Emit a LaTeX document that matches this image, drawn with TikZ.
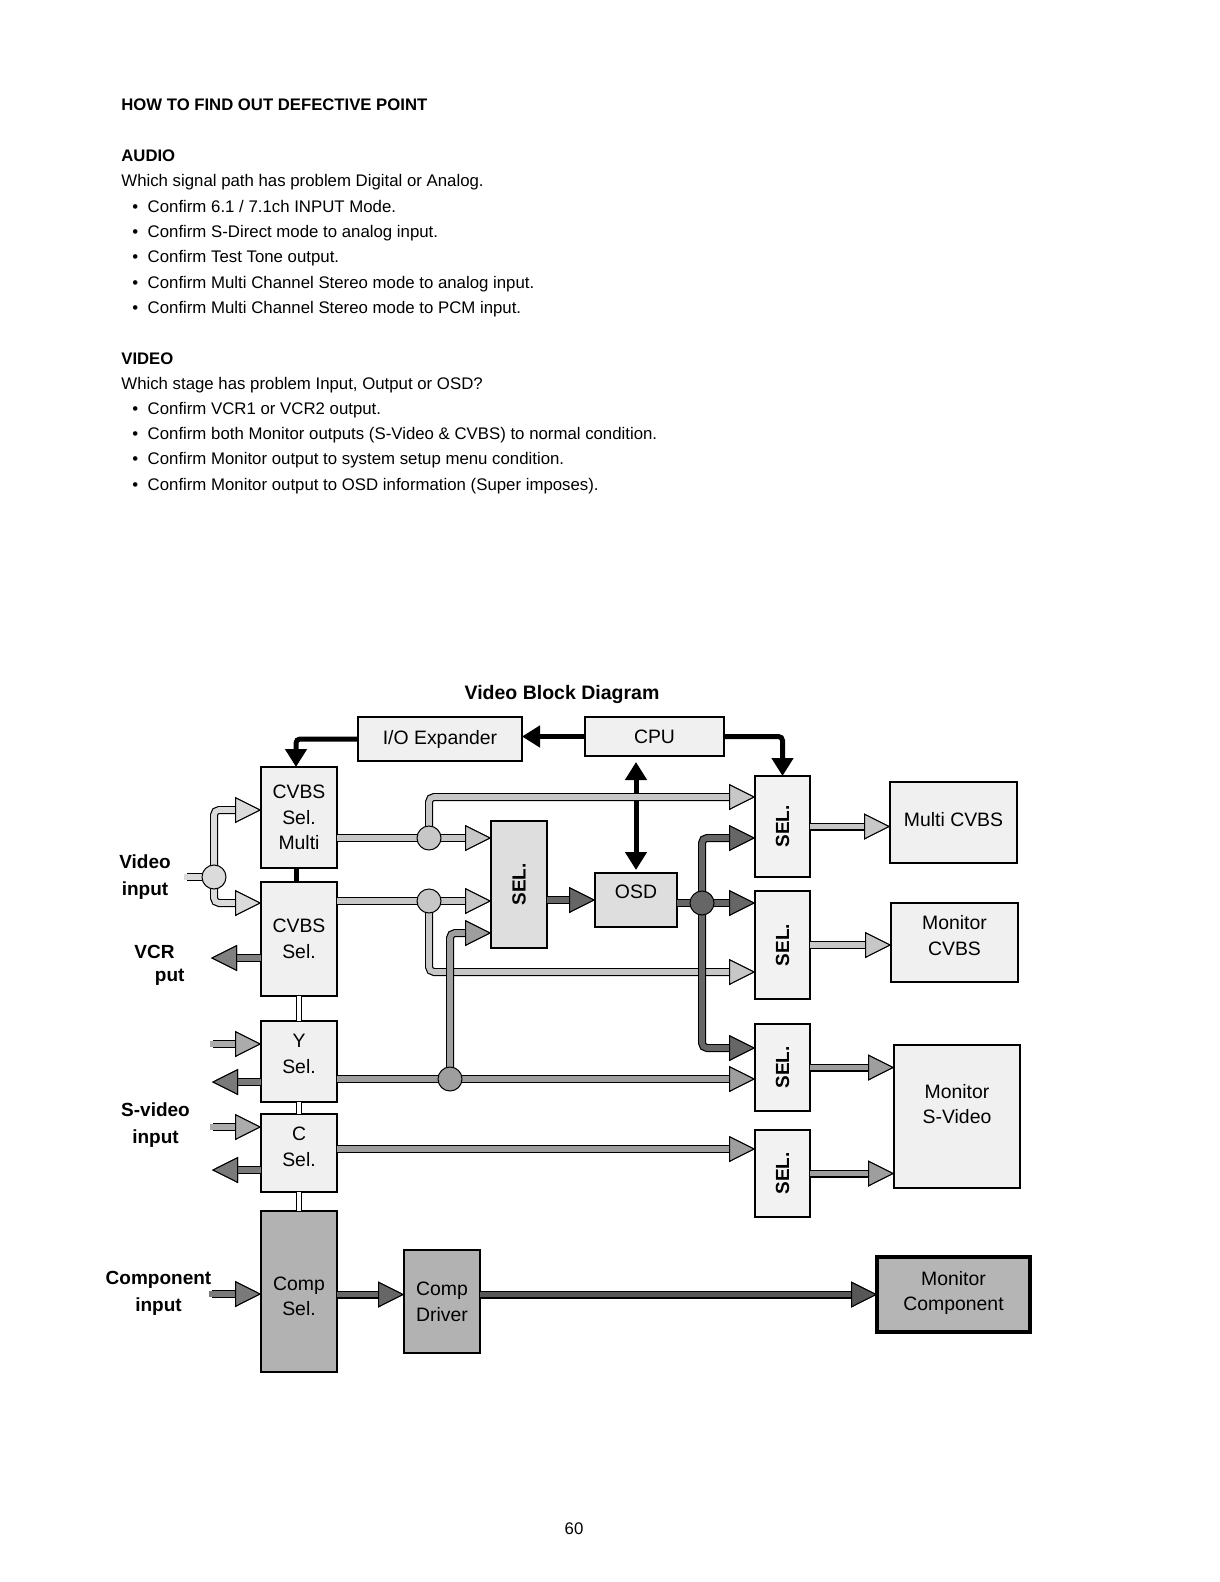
\documentclass[tikz,border=0pt]{standalone}
\usepackage{fontspec}
\setmainfont{Liberation Sans}
\usepackage{graphicx}
\usetikzlibrary{arrows.meta,positioning}

\newcommand{\notesize}{\fontsize{8.4}{12.65}\selectfont}
\newcommand{\blocksize}{\fontsize{9.7}{12.85}\selectfont}
\newcommand{\sidesize}{\fontsize{9.5}{13.2}\selectfont\bfseries}
\newcommand{\seltext}{\rotatebox{90}{SEL.}}
\newcommand{\textlift}[1]{\rule[-#1]{0pt}{0pt}}
\newcommand{\textdrop}[1]{\rule{0pt}{#1}}

\begin{document}
\begin{tikzpicture}[
  x=0.5pt, y=-0.5pt,
  >={Triangle[length=9pt, width=10.5pt]},
  note/.style={anchor=base west, inner sep=0pt, font=\notesize},
  head/.style={anchor=base west, inner sep=0pt, font=\fontsize{8.35}{12.65}\selectfont\bfseries},
  block/.style={draw, line width=0.75pt, fill=black!6, inner sep=0pt, outer sep=0pt, align=center, font=\blocksize},
  dark/.style={block, fill=black!30},
  selbox/.style={block, fill=black!5, minimum width=27.5pt, font=\fontsize{9.5}{11}\selectfont\bfseries},
  monitor/.style={block, line width=1.3pt},
  side/.style={align=center, inner sep=0pt, font=\sidesize},
  ctrl/.style={line width=2.5pt, rounded corners=2pt},
  pipe/.style={draw=#1, line width=2.8pt, rounded corners=2.5pt,
    preaction={draw=black, line width=4pt},
    -{Triangle[length=13pt, width=13pt, line width=0.5pt, color=black, fill=#1]}},
  stub/.style={draw=#1, line width=2.8pt, preaction={draw=black, line width=4pt}},
  junction/.style={circle, draw, line width=0.5pt, fill=#1, minimum size=12pt, inner sep=0pt},
  link/.style={draw=black, line width=0.5pt, double=white, double distance=2pt}
]
\path[use as bounding box, fill=white] (0,0) rectangle (1219,1582);

% notes above the diagram
\node[head] (howto) at (121,111) {HOW TO FIND OUT DEFECTIVE POINT};
\node[head] (audio) at (121,162) {AUDIO};
\node[note] (audio-ask) at (121,187) {Which signal path has problem Digital or Analog.};
\foreach \txt [count=\i] in {{Confirm 6.1 / 7.1ch INPUT Mode.},
    {Confirm S-Direct mode to analog input.},
    {Confirm Test Tone output.},
    {Confirm Multi Channel Stereo mode to analog input.},
    {Confirm Multi Channel Stereo mode to PCM input.}}
  \node[note] (audio-\i) at (147.3,187+25.3*\i) {\llap{\textbullet\hspace{4.7pt}}\txt};
\node[head] (video) at (121,364.3) {VIDEO};
\node[note] (video-ask) at (121,389.3) {Which stage has problem Input, Output or OSD?};
\foreach \txt [count=\i] in {{Confirm VCR1 or VCR2 output.},
    {Confirm both Monitor outputs (S-Video \& CVBS) to normal condition.},
    {Confirm Monitor output to system setup menu condition.},
    {Confirm Monitor output to OSD information (Super imposes).}}
  \node[note] (video-\i) at (147.3,389.3+25.2*\i) {\llap{\textbullet\hspace{4.7pt}}\txt};

% diagram
\node[anchor=base, inner sep=0pt, font=\fontsize{9.75}{11}\selectfont\bfseries] (title) at (562,699) {Video Block Diagram};

\node[block, line width=1pt, minimum width=82pt, minimum height=22pt] (io) at (440,739) {I/O Expander};
\node[block, line width=1pt, minimum width=69.5pt, minimum height=19.5pt] (cpu) at (654.5,736.5) {CPU};

\node[block, minimum width=38pt, minimum height=50.5pt] (cvbsm) at (299,817.5) {CVBS\\Sel.\\Multi};
\node[block, minimum width=38pt, minimum height=57pt, below=7pt of cvbsm] (cvbs) {CVBS\\Sel.};
\node[block, minimum width=38pt, minimum height=40.5pt, below=12.5pt of cvbs] (ysel) {Y\\Sel.\textlift{7.5pt}};
\node[block, minimum width=38pt, minimum height=39pt, below=6pt of ysel] (csel) {C\\Sel.\textlift{6pt}};
\node[dark, minimum width=38pt, minimum height=80.5pt, below=9.5pt of csel] (compsel) {\textdrop{11.6pt}Comp\\Sel.};
\node[dark, minimum width=38pt, minimum height=51.5pt] (compdrv) at (442,1301.5) {Comp\\Driver};

\node[block, fill=black!13, minimum width=28pt, minimum height=63.5pt, font=\fontsize{9.5}{11}\selectfont\bfseries] (selm) at (519,884.5) {\seltext};
\node[block, fill=black!13, minimum width=41pt, minimum height=27pt] (osd) at (636,900) {OSD\textlift{8pt}};

\node[selbox, minimum height=50.5pt] (sel1) at (782.5,826.5) {\seltext};
\node[selbox, minimum height=54pt, below=7pt of sel1] (sel2) {\seltext};
\node[selbox, minimum height=43.5pt, below=12.5pt of sel2] (sel3) {\seltext};
\node[selbox, minimum height=43.5pt, below=9.5pt of sel3] (sel4) {\seltext};

\node[monitor, minimum width=63.5pt, minimum height=40.5pt] (multi) at (953.5,822.5) {Multi CVBS\textlift{3.2pt}};
\node[monitor, minimum width=63.5pt, minimum height=39.5pt] (moncvbs) at (954.5,942.5) {Monitor\\CVBS\textlift{6.7pt}};
\node[monitor, minimum width=63pt, minimum height=71.5pt] (monsv) at (957,1116.5) {Monitor\\S-Video\textlift{12.5pt}};
\node[monitor, line width=1.7pt, fill=black!29, minimum width=76.5pt, minimum height=37.5pt] (moncomp) at (953.5,1294.5) {Monitor\\Component\textlift{3.5pt}};

% side labels
\node[side] (video-in) at (145,877) {Video\\input};
\node[side, anchor=base west] (vcr-a) at (134,958) {VCR};
\node[side, anchor=base west] (vcr-b) at (154.5,981.5) {put};
\node[side] (svideo-in) at (155.5,1125) {S-video\\input};
\node[side] (component-in) at (158.5,1293.5) {Component\\input};

% links between the selectors
\draw[line width=2.5pt] ([xshift=-1.5pt]cvbsm.south) -- ([xshift=-1.5pt]cvbs.north);
\draw[link] (cvbs.south) -- (ysel.north);
\draw[link] (ysel.south) -- (csel.north);
\draw[link] (csel.south) -- (compsel.north);

% control lines
\draw[ctrl, ->] (cpu.west) -- (cpu.west -| io.east);
\draw[ctrl, ->] (io.west) -| ([xshift=-1.5pt]cvbsm.north);
\draw[ctrl, ->] (cpu.east) -| (sel1.north);
\draw[ctrl, <->, shorten <=3pt, shorten >=1.5pt] (cpu.south -| osd.north) -- (osd.north);

% junction points
\coordinate (vin) at (187,877);
\coordinate (jv) at (214,877);
\coordinate (vin-up) at (214,810);
\coordinate (vin-dn) at (214,903);
\coordinate (j1) at (429,838);
\coordinate (j2) at (429,901);
\coordinate (cv-up) at (429,797);
\coordinate (cv-dn) at (429,972);
\coordinate (j3) at (450,1079);
\coordinate (y-up) at (450,933);
\coordinate (j4) at (702,903);
\coordinate (osd-up) at (702,838);
\coordinate (osd-dn) at (702,1048);
\coordinate (vcr-out) at (211,958);
\coordinate (y-in) at (213,1044);
\coordinate (y-out) at (212,1082);
\coordinate (c-in) at (213,1127);
\coordinate (c-out) at (212,1170);
\coordinate (comp-in) at (212,1294);

% video input
\draw[stub=black!14, line cap=rect] (vin) -- (jv);
\draw[pipe=black!14] (jv) -- (vin-up) -- (cvbsm.west |- vin-up);
\draw[pipe=black!14] (jv) -- (vin-dn) -- (cvbs.west |- vin-dn);

% cvbs paths
\draw[pipe=black!22] (cvbsm.east |- j1) -- (selm.west |- j1);
\draw[pipe=black!22] (j1) -- (cv-up) -- (sel1.west |- cv-up);
\draw[pipe=black!22] (cvbs.east |- j2) -- (selm.west |- j2);
\draw[pipe=black!22] (j2) -- (cv-dn) -- (sel2.west |- cv-dn);
\draw[pipe=black!22] (sel1.east) -- (sel1.east -| multi.west);
\draw[pipe=black!22] (sel2.east) -- (sel2.east -| moncvbs.west);

% s-video paths
\draw[pipe=black!38] (ysel.east |- j3) -- (sel3.west |- j3);
\draw[pipe=black!38] (j3) -- (y-up) -- (selm.west |- y-up);
\draw[pipe=black!38] ([yshift=2pt]csel.east) -- ([yshift=2pt]csel.east -| sel4.west);
\draw[pipe=black!38] (sel3.east) -- (sel3.east -| monsv.west);
\draw[pipe=black!38] (sel4.east) -- (sel4.east -| monsv.west);

% osd paths
\draw[pipe=black!60] (selm.east |- osd.west) -- (osd.west);
\draw[pipe=black!60] (osd.east |- j4) -- (sel2.west |- j4);
\draw[pipe=black!60] (j4) -- (osd-up) -- (sel1.west |- osd-up);
\draw[pipe=black!60] (j4) -- (osd-dn) -- (sel3.west |- osd-dn);

% left side in/out
\draw[pipe=black!50] (cvbs.west |- vcr-out) -- (vcr-out);
\draw[pipe=black!33, line cap=rect] (y-in) -- (ysel.west |- y-in);
\draw[pipe=black!52] (ysel.west |- y-out) -- (y-out);
\draw[pipe=black!33, line cap=rect] (c-in) -- (csel.west |- c-in);
\draw[pipe=black!52] (csel.west |- c-out) -- (c-out);

% component path
\draw[pipe=black!52, line cap=rect] (comp-in) -- (compsel.west |- comp-in);
\draw[pipe=black!60] (compsel.east |- moncomp.west) -- (compdrv.west |- moncomp.west);
\draw[pipe=black!66] (compdrv.east |- moncomp.west) -- (moncomp.west);

\node[junction=black!14] (jv-dot) at (jv) {};
\node[junction=black!22] (j1-dot) at (j1) {};
\node[junction=black!22] (j2-dot) at (j2) {};
\node[junction=black!38] (j3-dot) at (j3) {};
\node[junction=black!60] (j4-dot) at (j4) {};

\node[anchor=base, inner sep=0pt, font=\notesize] (page) at (574,1534) {60};
\end{tikzpicture}
\end{document}
